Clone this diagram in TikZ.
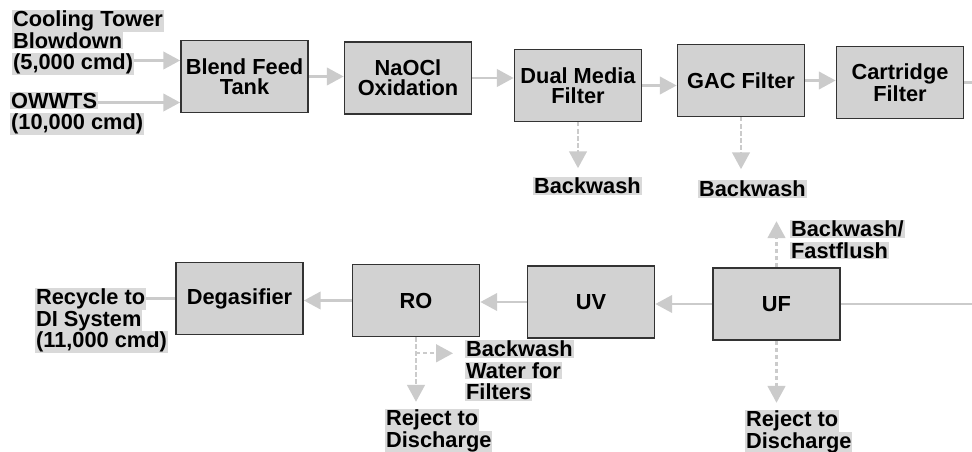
\documentclass[tikz,border=0pt]{standalone}
\usepackage{fontspec}
\setmainfont{Liberation Sans}
\usepackage{xcolor}
\usetikzlibrary{arrows.meta,calc}
\definecolor{boxfill}{HTML}{D2D2D2}
\definecolor{boxedge}{HTML}{333333}
\definecolor{pipegray}{HTML}{CBCBCB}
\definecolor{tagbg}{HTML}{D9D9D9}
\newcommand{\hilite}[1]{{\setlength{\fboxsep}{0.6pt}\colorbox{tagbg}{#1}}}
\newcommand{\boxfont}{\fontsize{15.5}{14.5}\selectfont\bfseries}
\newcommand{\tagfont}{\fontsize{15.5}{15.2}\selectfont\bfseries\lineskiplimit=-20pt\lineskip=0pt}
\pgfdeclarelayer{background}
\pgfsetlayers{background,main}

\begin{document}
\begin{tikzpicture}[x=0.025cm, y=-0.025cm,
    box/.style={rectangle, draw=boxedge, fill=boxfill, line width=1.1pt, minimum width=3.18cm, minimum height=1.8cm, align=center, font=\boxfont},
    flow/.style={draw=pipegray, line width=1.6pt, -{Triangle[length=0.42cm, width=0.44cm]}},
    branch/.style={flow, dash pattern=on 3pt off 2pt},
    pipe/.style={draw=pipegray, line width=1.6pt},
    lbl/.style={inner sep=0pt, align=left, font=\tagfont, anchor=north west}
]
\useasboundingbox (0,0) rectangle (972,452);

% Boxes, top row
\node[box] (blend) at (244.5,76.5) {Blend Feed\\Tank};
\node[box] (naocl) at (408,78) {NaOCl\\Oxidation};
\node[box] (dual) at (578,85.5) {Dual Media\\Filter};
\node[box] (gac) at (741,80.5) {GAC Filter};
\node[box] (cart) at (900,82.5) {Cartridge\\Filter};

% Boxes, bottom row
\node[box] (degas) at (239.5,298.5) {Degasifier};
\node[box] (ro) at (416,300.5) {RO};
\node[box] (uv) at (591,302) {UV};
\node[box] (uf) at (776.5,304) {UF};

% Labels
\node[lbl] (ctlbl) at (12,10) {\hilite{Cooling Tower}\\\hilite{Blowdown}\\\hilite{(5,000 cmd)}};
\node[lbl] (owlbl) at (10,92) {\hilite{OWWTS}\\\hilite{(10,000 cmd)}};
\node[lbl] (bw1) at (533,177) {\hilite{Backwash}};
\node[lbl] (bw2) at (698,180) {\hilite{Backwash}};
\node[lbl] (bflbl) at (790,220) {\hilite{Backwash/}\\\hilite{Fastflush}};
\node[lbl] (reclbl) at (35,288) {\hilite{Recycle to}\\\hilite{DI System}\\\hilite{(11,000 cmd)}};
\node[lbl] (bwf) at (465,340) {\hilite{Backwash}\\\hilite{Water for}\\\hilite{Filters}};
\node[lbl] (rj1) at (385,409) {\hilite{Reject to}\\\hilite{Discharge}};
\node[lbl] (rj2) at (745,410) {\hilite{Reject to}\\\hilite{Discharge}};

% Free ends
\coordinate (cin) at ([yshift=0.4cm]blend.west);
\coordinate (oin) at ([yshift=-0.65cm]blend.west);
\coordinate (topexit) at (972,81);
\coordinate (botentry) at (972,300);
\coordinate (rotee) at ([yshift=-0.4cm]ro.south);
\coordinate (ufvent) at ([yshift=1.15cm]uf.north);

\begin{pgfonlayer}{background}
% Feed and treatment train
\draw[flow] (ctlbl.center |- cin) -- (cin);
\draw[flow] (owlbl.center |- oin) -- (oin);
\draw[flow] (blend.east) -- (blend.east -| naocl.west);
\draw[flow] (naocl.east) -- (naocl.east -| dual.west);
\draw[flow] (dual.east) -- (dual.east -| gac.west);
\draw[flow] (gac.east) -- (gac.east -| cart.west);
\draw[pipe] (cart.east) -- (cart.east -| topexit);
\draw[pipe] (botentry |- uf.east) -- (uf.east);
\draw[flow] (uf.west) -- (uf.west -| uv.east);
\draw[flow] (uv.west) -- (uv.west -| ro.east);
\draw[flow] (ro.west) -- (ro.west -| degas.east);
\draw[pipe] (degas.west) -- (reclbl.center |- degas.west);

% Side streams
\draw[branch, shorten >=0.22cm] (dual.south) -- (dual.south |- bw1.north);
\draw[branch, shorten >=0.27cm] (gac.south) -- (gac.south |- bw2.north);
\draw[branch] (uf.north) -- (ufvent);
\draw[branch, shorten >=0.18cm] (uf.south) -- (uf.south |- rj2.north);
\draw[branch, shorten >=0.18cm] (ro.south) -- (ro.south |- rj1.north);
\draw[branch, shorten >=0.3cm] (rotee) -- (rotee -| bwf.west);
\end{pgfonlayer}
\end{tikzpicture}
\end{document}
